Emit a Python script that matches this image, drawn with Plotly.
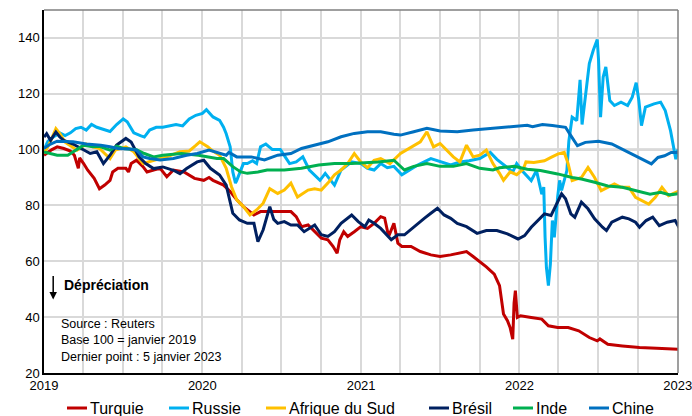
import pandas as pd
import plotly.graph_objects as go

# ---- data: (months since Jan 2019, index base 100 = Jan 2019) ----
turquie_m = [0, 0.3, 0.6, 1.0, 1.5, 2.0, 2.3, 2.6, 2.7, 3.0, 3.3, 3.8, 4.2, 4.6, 5.0, 5.2, 5.6, 6.2, 6.4, 6.6, 7.0, 7.5, 7.8, 8.3, 8.8, 9.3, 9.8, 10.6, 11.4, 12.1, 12.5, 12.8, 13.3, 13.6, 14.1, 14.6, 15.1, 15.9, 16.4, 17.5, 18.7, 19.1, 19.5, 20.0, 20.5, 21.0, 21.5, 21.9, 22.2, 22.4, 22.7, 23.0, 23.5, 24.0, 24.5, 25.0, 25.5, 25.8, 26.1, 26.3, 26.5, 26.8, 27.1, 27.8, 28.5, 29.3, 30.0, 30.8, 31.5, 32.0, 32.5, 33.0, 33.5, 34.1, 34.5, 34.8, 35.1, 35.3, 35.5, 35.6, 35.7, 35.85, 36.1, 36.9, 37.7, 38.2, 38.9, 39.7, 40.5, 41.3, 41.9, 42.1, 42.7, 43.8, 45.1, 46.4, 48.15]
turquie_v = [98, 99, 100, 101, 100.4, 99.5, 98, 93.3, 97, 95, 92.7, 89.7, 86, 87.3, 89, 92, 93.3, 93.3, 92, 95, 96.2, 93.9, 92, 92.7, 93.3, 90.3, 92.7, 92, 89.7, 89, 90, 89, 87.8, 87.3, 85, 82, 79.6, 76.6, 77.8, 77.8, 77.8, 76, 72.4, 73, 70.6, 68.3, 67.7, 65.3, 62.9, 67.7, 70.6, 68.9, 70.6, 72.4, 71.8, 73.6, 76, 75.5, 68.9, 71, 73.6, 66.5, 65.3, 65.3, 63.5, 62.3, 61.7, 62.3, 62.9, 63.5, 61.7, 59.9, 58, 55.4, 51.3, 41.1, 38.7, 36.3, 32.1, 45, 49.5, 39.9, 40.5, 39.9, 39.3, 36.9, 36.3, 36.3, 35.1, 32.7, 31.5, 32.2, 30.3, 29.7, 29.1, 28.9, 28.5]

russie_m = [0, 0.3, 0.7, 1.2, 1.6, 2.0, 2.4, 2.8, 3.2, 3.6, 4.0, 4.4, 5.0, 5.5, 6.0, 6.3, 6.8, 7.3, 7.6, 8.0, 8.5, 9.0, 9.5, 10.0, 10.5, 11.0, 11.5, 12.0, 12.3, 12.8, 13.3, 13.6, 13.8, 14.1, 14.3, 14.5, 14.6, 14.8, 15.1, 15.4, 15.8, 16.1, 16.4, 16.8, 17.3, 17.9, 18.3, 18.6, 19.1, 19.6, 20.1, 20.5, 20.9, 21.3, 21.7, 22.0, 22.5, 23.0, 23.3, 24.0, 24.5, 25.0, 25.5, 26.0, 26.5, 27.1, 27.7, 28.3, 29.3, 30.0, 30.8, 31.5, 32.2, 33.0, 33.8, 34.3, 35.0, 35.5, 35.8, 36.3, 36.9, 37.3, 37.7, 37.85, 37.95, 38.05, 38.2, 38.35, 38.5, 38.65, 38.9, 39.05, 39.2, 39.45, 39.6, 39.75, 40.0, 40.35, 40.6, 40.75, 41.0, 41.3, 41.6, 41.9, 42.0, 42.15, 42.35, 42.55, 42.85, 43.2, 43.7, 44.2, 44.55, 44.85, 45.05, 45.25, 45.55, 46.2, 46.7, 47.05, 47.45, 47.7, 47.85, 48.0, 48.15]
russie_v = [100, 103, 104.5, 106, 105, 106, 107.5, 108, 107, 109, 108, 107.5, 106.5, 109, 111, 110, 106, 105, 104.5, 107, 108, 108, 108.5, 109, 108.5, 111, 112.3, 113, 114.3, 111.7, 110.5, 108, 105.7, 101, 92, 88, 89, 91.5, 95, 95, 96, 95, 101, 102, 100, 100, 97, 95, 95.6, 97.4, 92.7, 91, 89, 91.5, 89, 87.3, 92.7, 94.5, 95.6, 95, 93.3, 92.7, 95, 93.5, 94, 91, 92.7, 94.5, 96.8, 95.6, 94.5, 95.6, 96, 96.8, 99, 96.5, 94, 92, 95, 92, 88.9, 92.5, 84, 86.6, 68.6, 57.8, 51.3, 59, 74.6, 68.6, 83, 89, 85.4, 90, 92.5, 103, 111.6, 110.4, 125, 109, 118.8, 130.8, 135.6, 139.4, 132, 111.6, 126, 129.6, 117.6, 115.8, 117, 115.8, 118.8, 124, 117.6, 108.6, 115.2, 116.4, 117, 114, 106.8, 99.6, 96.6, 100, 97]

afrique_m = [0, 0.4, 0.9, 1.2, 1.6, 2.5, 3.2, 3.7, 4.2, 5.0, 5.4, 6.2, 6.8, 7.5, 8.2, 9.3, 10.3, 11.0, 11.5, 11.8, 12.4, 12.7, 13.3, 13.8, 14.2, 14.6, 15.1, 15.6, 16.1, 16.6, 17.1, 17.7, 18.2, 18.7, 19.2, 20.0, 20.5, 21.0, 21.5, 22.0, 22.5, 23.0, 23.5, 24.0, 24.5, 25.0, 25.5, 26.2, 27.0, 27.8, 28.5, 29.0, 29.5, 30.0, 30.5, 31.0, 31.5, 32.0, 32.5, 33.0, 33.5, 34.0, 34.5, 34.8, 35.3, 35.8, 36.3, 36.5, 37.1, 37.9, 38.4, 38.9, 39.4, 39.7, 40.0, 40.7, 41.2, 41.7, 42.2, 42.7, 43.2, 43.7, 44.3, 44.8, 45.3, 45.8, 46.3, 46.8, 47.3, 47.8, 48.15]
afrique_v = [98.6, 102, 107.5, 105.7, 102.7, 99.8, 102, 101, 100.4, 96.8, 99.8, 101, 99.2, 95, 96, 97.4, 99.2, 99.5, 101.5, 102.8, 101, 99.8, 98, 93.3, 86.7, 82, 79.6, 76.6, 78.4, 80.8, 86, 84.3, 85.5, 88, 83, 85.5, 86, 85.5, 88, 91, 92.7, 95, 98.6, 95.5, 93.5, 96.2, 96.8, 95, 98.6, 101, 102.8, 106.4, 101, 102.2, 99.8, 97.4, 95.6, 101.6, 97.4, 98, 99.8, 95, 91.5, 89, 92, 91, 93, 95.6, 95.4, 96, 97.2, 98.4, 99, 94.9, 88.9, 90, 93.6, 90, 85.3, 86.5, 87.7, 86.5, 86.5, 82.9, 81.7, 80.5, 82.9, 86.5, 83.5, 84.7, 85.3]

bresil_m = [0, 0.2, 0.5, 0.9, 1.2, 1.5, 2.2, 3.0, 3.5, 4.0, 4.5, 5.0, 5.5, 6.2, 6.6, 7.2, 7.7, 8.3, 9.0, 9.8, 10.3, 10.8, 11.6, 12.1, 12.6, 13.3, 13.8, 14.3, 14.8, 15.4, 15.9, 16.2, 16.6, 17.1, 17.4, 17.7, 18.2, 18.7, 19.2, 19.7, 20.5, 21.0, 21.5, 22.0, 22.5, 23.3, 23.8, 24.3, 24.6, 25.0, 25.5, 26.3, 26.8, 27.3, 28.0, 28.8, 29.3, 29.8, 30.3, 30.8, 31.3, 32.0, 32.8, 33.5, 34.3, 35.1, 35.9, 36.4, 36.9, 37.4, 37.9, 38.4, 38.8, 39.2, 39.5, 39.9, 40.2, 40.7, 41.2, 41.7, 42.3, 42.6, 43.0, 43.8, 44.3, 44.8, 45.1, 45.6, 46.1, 46.6, 47.2, 47.8, 48.15]
bresil_v = [104.5, 105.7, 103.3, 106.3, 104.5, 103.3, 102, 99.8, 98.6, 99.2, 95, 98, 101.6, 104, 102.7, 97.4, 95, 93.2, 93.8, 92.6, 91.4, 93.2, 95.6, 96.2, 93.3, 90.9, 87.3, 77.2, 74.8, 73.6, 73.6, 67, 71.3, 79.6, 75, 73.6, 74.2, 73, 73, 70.6, 73, 69.5, 68.9, 70.6, 73.6, 76.6, 74.2, 72.4, 74.8, 73.6, 71.8, 67.7, 69.5, 69.5, 72.4, 75.4, 77.2, 79, 76.6, 75.4, 73.6, 72.4, 70, 71, 71, 69.8, 68, 69.2, 72.2, 74.6, 77, 76.4, 80.6, 84.2, 82.4, 77, 75.8, 81.2, 78.8, 75.2, 72.2, 71, 74, 75.8, 75.2, 74, 72.2, 74.6, 75.8, 72.8, 74, 74.6, 71.6]

inde_m = [0, 0.5, 1.0, 1.8, 2.4, 3.0, 3.7, 4.2, 5.0, 5.5, 6.0, 7.0, 7.6, 8.3, 9.0, 10.4, 11.7, 12.5, 13.1, 13.6, 14.3, 14.9, 15.4, 16.2, 16.9, 18.2, 19.5, 20.8, 22.0, 23.3, 24.5, 25.3, 26.5, 27.3, 28.0, 29.0, 30.0, 31.0, 32.0, 33.0, 34.0, 34.5, 35.6, 36.6, 37.6, 38.9, 40.0, 40.7, 41.7, 42.7, 43.8, 44.8, 45.9, 46.7, 47.4, 48.15]
inde_v = [99.2, 98.5, 98, 98, 99.8, 101.6, 101, 101.2, 99.8, 101.2, 100.4, 100, 98.6, 97.4, 98, 98.6, 98, 97.4, 96.8, 96.8, 93.9, 92, 91.5, 92, 92.7, 92.7, 93.3, 94.5, 95, 95, 95.3, 95.6, 96.2, 92.7, 94, 95, 94, 94, 95, 93.3, 92.7, 93.5, 94, 93, 92.5, 91.3, 90, 89.5, 88.3, 87, 86.5, 85.3, 84, 84.7, 83.8, 84.3]

chine_m = [0, 0.5, 1.0, 2.2, 3.2, 4.3, 5.0, 5.6, 6.5, 7.0, 7.5, 8.0, 8.8, 9.8, 10.8, 11.6, 12.5, 12.9, 13.4, 13.8, 14.0, 14.6, 15.7, 16.7, 17.7, 18.7, 19.5, 20.5, 21.5, 22.5, 23.5, 24.5, 25.5, 26.5, 27.0, 28.0, 29.0, 30.0, 31.3, 32.5, 34.0, 35.3, 36.6, 37.0, 37.75, 38.5, 39.5, 39.9, 40.4, 41.0, 42.0, 43.0, 43.75, 44.5, 45.5, 46.0, 46.5, 47.0, 47.5, 48.15]
chine_v = [100.5, 102, 103, 102.8, 102, 101.6, 101, 100.4, 100.2, 99.8, 97.4, 96.8, 96.3, 96.8, 98, 98.6, 99.8, 99.2, 98.5, 98, 99, 97.4, 97.4, 96.3, 98, 98.6, 100.4, 101.6, 102.8, 104.6, 105.8, 106.4, 106.4, 105.5, 105.2, 106.4, 107.6, 106.7, 106.4, 107, 107.6, 108.2, 108.7, 108.2, 109, 108.6, 108, 105, 101.4, 102.6, 103, 102, 100.2, 98.4, 96, 94.9, 97.2, 97.8, 99, 99]

series = [
    ("Turquie", turquie_m, turquie_v, "#C00000"),
    ("Russie", russie_m, russie_v, "#00B0F0"),
    ("Afrique du Sud", afrique_m, afrique_v, "#FFC000"),
    ("Brésil", bresil_m, bresil_v, "#002060"),
    ("Inde", inde_m, inde_v, "#00B050"),
    ("Chine", chine_m, chine_v, "#0070C0"),
]

y_ticks = [20, 40, 60, 80, 100, 120, 140]
x_ticks = ["2019", "2020", "2021", "2022", "2023"]

base = pd.Timestamp("2019-01-01")


def to_dates(months):
    return [base + pd.to_timedelta(m * 30.4375, unit="D") for m in months]


FONT = "Arial, Liberation Sans, sans-serif"
W, H = 692, 416
ML, MR, MT, MB = 44, 14, 10, 43
PW, PH = W - ML - MR, H - MT - MB

fig = go.Figure()
for name, m, v, col in series:
    fig.add_trace(go.Scatter(x=to_dates(m), y=v, name=name, mode="lines",
                             line=dict(color=col, width=3), showlegend=False))

fig.update_layout(
    width=W, height=H,
    margin=dict(l=ML, r=MR, t=MT, b=MB, autoexpand=False),
    paper_bgcolor="white", plot_bgcolor="white",
    font=dict(family=FONT, color="black", size=13),
    showlegend=False,
)
fig.update_xaxes(
    type="date", range=["2019-01-01", "2023-01-01 12:00"],
    tickvals=[f"{t}-01-01" for t in x_ticks], ticktext=x_ticks,
    showgrid=True, gridcolor="#D9D9D9", gridwidth=1.5,
    minor=dict(dtick="M3", showgrid=True, gridcolor="#D9D9D9", gridwidth=1.5),
    showline=True, linecolor="black", linewidth=1.5,
    ticks="", tickfont=dict(size=13), zeroline=False, automargin=False,
    ticklabeloverflow="allow",
)
fig.update_yaxes(
    range=[20, 150], tickvals=y_ticks,
    showgrid=True, gridcolor="#D9D9D9", gridwidth=1.5,
    showline=True, linecolor="black", linewidth=1.5,
    ticks="", tickfont=dict(size=13), zeroline=False, automargin=False,
)
# reference line at 100 and top/right frame
fig.add_hline(y=100, line=dict(color="#808080", width=1.5), layer="below")
fig.add_shape(type="line", xref="paper", yref="paper", x0=0, x1=1, y0=1, y1=1,
              line=dict(color="#7F7F7F", width=1.5))
fig.add_shape(type="line", xref="paper", yref="paper", x0=1, x1=1, y0=0, y1=1,
              line=dict(color="#7F7F7F", width=1.5))

# manual legend (below the plot)
legend_px = [67, 169, 266, 429, 513, 589]
legend_py = 408
ly = (H - MB - legend_py) / PH
for (name, m, v, col), px in zip(series, legend_px):
    x0 = (px - ML) / PW
    x1 = (px + 20 - ML) / PW
    fig.add_shape(type="line", xref="paper", yref="paper", x0=x0, x1=x1,
                  y0=ly, y1=ly, line=dict(color=col, width=3))
    fig.add_annotation(xref="paper", yref="paper", x=x1, y=ly, xanchor="left",
                       yanchor="middle", xshift=1, showarrow=False, text=name,
                       font=dict(size=16, family=FONT))

# depreciation arrow + label
fig.add_annotation(xref="paper", yref="y", x=0.0145, y=46.3, ax=0, ay=-25,
                   text="", showarrow=True, arrowhead=2, arrowsize=1,
                   arrowwidth=1.5, arrowcolor="black")
fig.add_annotation(xref="paper", yref="y", x=0.028, y=51.6, xanchor="left",
                   yanchor="middle", showarrow=False,
                   text="<b>Dépréciation</b>", font=dict(size=14, family=FONT))
fig.add_annotation(xref="paper", yref="y", x=0.024, y=40.8, xanchor="left",
                   yanchor="top", showarrow=False, align="left",
                   text="Source : Reuters<br>Base 100 = janvier 2019<br>Dernier point : 5 janvier 2023",
                   font=dict(size=12.5, family=FONT))

fig.write_html("out.html", config={"displayModeBar": False},
               post_script="document.body.style.margin='0';document.body.style.overflow='hidden';")
